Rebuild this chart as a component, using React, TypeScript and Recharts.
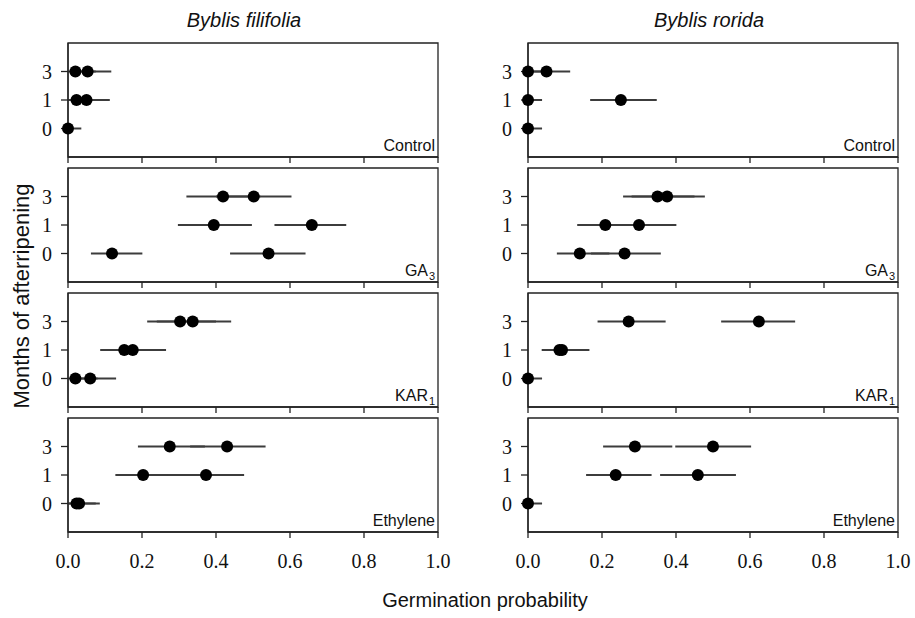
import React from "react";
import { ScatterChart, Scatter, XAxis, YAxis, ErrorBar, ReferenceArea } from "recharts";

// ---------- data ----------
const months = ["0", "1", "3"];
const xTicks = [0, 0.2, 0.4, 0.6, 0.8, 1.0];
const speciesNames = ["Byblis filifolia", "Byblis rorida"];
const treatmentNames = ["Control", "GA", "KAR", "Ethylene"];
const treatmentSubs = ["", "3", "1", ""];

type Pt = { m: string; p: number; lo: number; hi: number };

const filifoliaControl: Pt[] = [
  { m: "3", p: 0.02, lo: 0, hi: 0.075 },
  { m: "3", p: 0.053, lo: 0.005, hi: 0.117 },
  { m: "1", p: 0.023, lo: 0, hi: 0.075 },
  { m: "1", p: 0.05, lo: 0.005, hi: 0.113 },
  { m: "0", p: 0, lo: 0, hi: 0.036 },
];
const roridaControl: Pt[] = [
  { m: "3", p: 0, lo: 0, hi: 0.04 },
  { m: "3", p: 0.05, lo: 0.005, hi: 0.114 },
  { m: "1", p: 0, lo: 0, hi: 0.038 },
  { m: "1", p: 0.251, lo: 0.168, hi: 0.348 },
  { m: "0", p: 0, lo: 0, hi: 0.038 },
];
const filifoliaGA3: Pt[] = [
  { m: "3", p: 0.419, lo: 0.32, hi: 0.52 },
  { m: "3", p: 0.502, lo: 0.4, hi: 0.604 },
  { m: "1", p: 0.394, lo: 0.297, hi: 0.497 },
  { m: "1", p: 0.659, lo: 0.558, hi: 0.752 },
  { m: "0", p: 0.119, lo: 0.062, hi: 0.201 },
  { m: "0", p: 0.542, lo: 0.438, hi: 0.642 },
];
const roridaGA3: Pt[] = [
  { m: "3", p: 0.35, lo: 0.257, hi: 0.45 },
  { m: "3", p: 0.376, lo: 0.28, hi: 0.478 },
  { m: "1", p: 0.209, lo: 0.133, hi: 0.3 },
  { m: "1", p: 0.3, lo: 0.21, hi: 0.401 },
  { m: "0", p: 0.14, lo: 0.078, hi: 0.22 },
  { m: "0", p: 0.261, lo: 0.17, hi: 0.359 },
];
const filifoliaKAR1: Pt[] = [
  { m: "3", p: 0.303, lo: 0.214, hi: 0.4 },
  { m: "3", p: 0.337, lo: 0.24, hi: 0.441 },
  { m: "1", p: 0.152, lo: 0.087, hi: 0.23 },
  { m: "1", p: 0.175, lo: 0.1, hi: 0.265 },
  { m: "0", p: 0.02, lo: 0, hi: 0.08 },
  { m: "0", p: 0.06, lo: 0.015, hi: 0.13 },
];
const roridaKAR1: Pt[] = [
  { m: "3", p: 0.272, lo: 0.188, hi: 0.372 },
  { m: "3", p: 0.624, lo: 0.522, hi: 0.722 },
  { m: "1", p: 0.085, lo: 0.037, hi: 0.16 },
  { m: "1", p: 0.092, lo: 0.04, hi: 0.166 },
  { m: "0", p: 0, lo: 0, hi: 0.038 },
];
const filifoliaEthylene: Pt[] = [
  { m: "3", p: 0.275, lo: 0.189, hi: 0.37 },
  { m: "3", p: 0.43, lo: 0.33, hi: 0.534 },
  { m: "1", p: 0.203, lo: 0.128, hi: 0.29 },
  { m: "1", p: 0.373, lo: 0.27, hi: 0.476 },
  { m: "0", p: 0.023, lo: 0, hi: 0.075 },
  { m: "0", p: 0.03, lo: 0.002, hi: 0.086 },
];
const roridaEthylene: Pt[] = [
  { m: "3", p: 0.289, lo: 0.203, hi: 0.39 },
  { m: "3", p: 0.5, lo: 0.398, hi: 0.603 },
  { m: "1", p: 0.237, lo: 0.157, hi: 0.334 },
  { m: "1", p: 0.459, lo: 0.357, hi: 0.562 },
  { m: "0", p: 0, lo: 0, hi: 0.038 },
];

const panelData: Pt[][][] = [
  [filifoliaControl, roridaControl],
  [filifoliaGA3, roridaGA3],
  [filifoliaKAR1, roridaKAR1],
  [filifoliaEthylene, roridaEthylene],
];

// ---------- layout ----------
const PLOT_W = 370;
const PLOT_H = 114;
const COL_X = [68, 528];
const ROW_Y = [43, 168, 293, 418];
const Y_AXIS_W = 60;
const M_TOP = 2;
const M_RIGHT = 16;
const AXIS_COLOR = "#222";
const BAR_COLOR = "#3c3c3c";
const SERIF = "'Liberation Serif', 'Times New Roman', serif";
const SANS = "'Liberation Sans', Arial, sans-serif";

const Dot = (props: any) => {
  const { cx, cy } = props;
  if (cx == null || cy == null) return null;
  return <circle cx={cx} cy={cy} r={6} fill="#000" />;
};

function Panel({ data, left, top, showLabels }: { data: Pt[]; left: number; top: number; showLabels: boolean }) {
  const rows = data.map((d) => ({
    x: d.p,
    y: months.indexOf(d.m),
    err: [d.p - d.lo, d.hi - d.p],
  }));
  const xAxisH = showLabels ? 40 : 8;
  return (
    <div style={{ position: "absolute", left: left - Y_AXIS_W, top: top - M_TOP }}>
      <ScatterChart
        width={Y_AXIS_W + PLOT_W + M_RIGHT}
        height={M_TOP + PLOT_H + xAxisH}
        margin={{ top: M_TOP, right: M_RIGHT, bottom: 0, left: 0 }}
      >
        <XAxis
          type="number"
          dataKey="x"
          domain={[0, 1]}
          ticks={xTicks}
          interval={0}
          height={xAxisH}
          tickSize={6}
          tickMargin={16}
          tickFormatter={showLabels ? (v: number) => v.toFixed(1) : () => ""}
          axisLine={{ stroke: AXIS_COLOR, strokeWidth: 1.3 }}
          tickLine={{ stroke: AXIS_COLOR, strokeWidth: 1.3 }}
          tick={{ fill: "#111", fontSize: 20, fontFamily: SERIF }}
        />
        <YAxis
          type="number"
          dataKey="y"
          domain={[-1, 3]}
          ticks={[0, 1, 2]}
          interval={0}
          width={Y_AXIS_W}
          tickSize={7}
          tickMargin={9}
          tickFormatter={(v: number) => months[v] ?? ""}
          axisLine={{ stroke: AXIS_COLOR, strokeWidth: 1.3 }}
          tickLine={{ stroke: AXIS_COLOR, strokeWidth: 1.3 }}
          tick={{ fill: "#111", fontSize: 20, fontFamily: SERIF }}
        />
        <ReferenceArea x1={0} x2={1} y1={-1} y2={3} fill="none" fillOpacity={0} stroke={AXIS_COLOR} strokeWidth={1.3} />
        <Scatter data={rows} isAnimationActive={false} shape={Dot}>
          <ErrorBar dataKey="err" direction="x" width={0} stroke={BAR_COLOR} strokeWidth={2} isAnimationActive={false} />
        </Scatter>
      </ScatterChart>
    </div>
  );
}

export default function App() {
  return (
    <div style={{ position: "absolute", left: 0, top: 0, width: 915, height: 618, background: "#fff", overflow: "hidden" }}>
      {panelData.map((row, r) =>
        row.map((d, c) => (
          <Panel key={`${r}-${c}`} data={d} left={COL_X[c]} top={ROW_Y[r]} showLabels={r === panelData.length - 1} />
        ))
      )}
      <svg width={915} height={618} style={{ position: "absolute", left: 0, top: 0, pointerEvents: "none" }}>
        <text x={244} y={27} textAnchor="middle" fontFamily={SANS} fontStyle="italic" fontSize={20} fill="#111">
          {speciesNames[0]}
        </text>
        <text x={709} y={27} textAnchor="middle" fontFamily={SANS} fontStyle="italic" fontSize={20} fill="#111">
          {speciesNames[1]}
        </text>
        {ROW_Y.map((ty, r) =>
          COL_X.map((lx, c) => (
            <text
              key={`lab-${r}-${c}`}
              x={lx + PLOT_W - 3 - (treatmentSubs[r] ? 7 : 0)}
              y={ty + PLOT_H - 6}
              textAnchor="end"
              fontFamily={SANS}
              fontSize={16}
              fill="#111"
            >
              {treatmentNames[r]}
            </text>
          ))
        )}
        {ROW_Y.map((ty, r) =>
          treatmentSubs[r]
            ? COL_X.map((lx, c) => (
                <text
                  key={`sub-${r}-${c}`}
                  x={lx + PLOT_W - 3}
                  y={ty + PLOT_H - 2}
                  textAnchor="end"
                  fontFamily={SANS}
                  fontSize={11}
                  fill="#111"
                >
                  {treatmentSubs[r]}
                </text>
              ))
            : null
        )}
        <text x={485} y={607} textAnchor="middle" fontFamily={SANS} fontSize={20} fill="#111">
          Germination probability
        </text>
        <text transform="translate(29, 296) rotate(-90)" textAnchor="middle" fontFamily={SANS} fontSize={22} fill="#111">
          Months of afterripening
        </text>
      </svg>
    </div>
  );
}
